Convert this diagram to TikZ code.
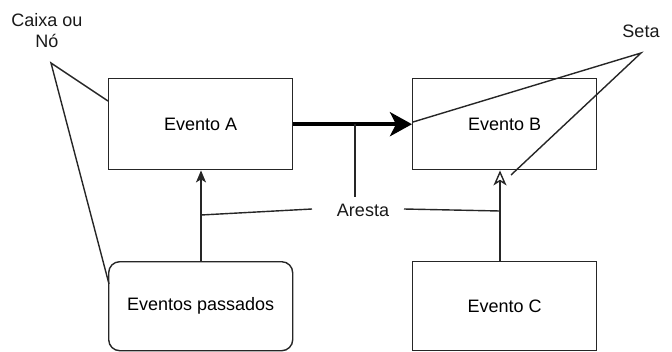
\documentclass[tikz,border=0pt]{standalone}
\usepackage{fontspec}
\setmainfont{Liberation Sans}
\usetikzlibrary{arrows.meta}
\begin{document}
\begin{tikzpicture}[x=1pt,y=-1pt,
  font=\fontsize{18}{21}\selectfont,
  line/.style={draw=black!85, line width=1.4pt},
  box/.style={line, minimum width=184pt, minimum height=91pt, inner sep=0pt, anchor=north west},
  lbl/.style={inner sep=0pt, text=black!90}]
\useasboundingbox (0,0) rectangle (672,351);
\node[box] (A) at (108,78) {Evento A};
\node[box] (B) at (412,78) {Evento B};
\node[box, rounded corners=11pt, minimum height=89pt] (P) at (108,261) {Eventos passados};
\node[box, minimum height=89pt] (C) at (412,261) {Evento C};
% edges
\draw[line width=4pt, draw=black, -{Stealth[length=22pt,width=24pt,inset=6pt]}] (A.east) -- (B.west);
\draw[line, -{Stealth[length=12pt,width=10pt,inset=3pt]}] (P.north -| 201,0) -- (A.south -| 201,0);
\draw[line, -{Stealth[length=15pt,width=13pt,inset=4pt,open]}] (C.north -| 500,0) -- (B.south -| 500,0);
% labels
\node[lbl] (ar) at (363,210) {Aresta};
\coordinate (m) at (355,123.5);
\draw[line] (m) -- (355,197);
\draw[line] (201,215) -- (312,209);
\draw[line] (404,209) -- (500,211);
\node[lbl, align=center] (cx) at (47,31) {Caixa ou\\Nó};
\coordinate (cxa) at (51,63);
\draw[line] (108,101) -- (cxa) -- (109,284);
\node[lbl] (st) at (641,31) {Seta};
\coordinate (sta) at (641,53);
\draw[line] (413,122) -- (sta) -- (511,175);
\end{tikzpicture}
\end{document}
